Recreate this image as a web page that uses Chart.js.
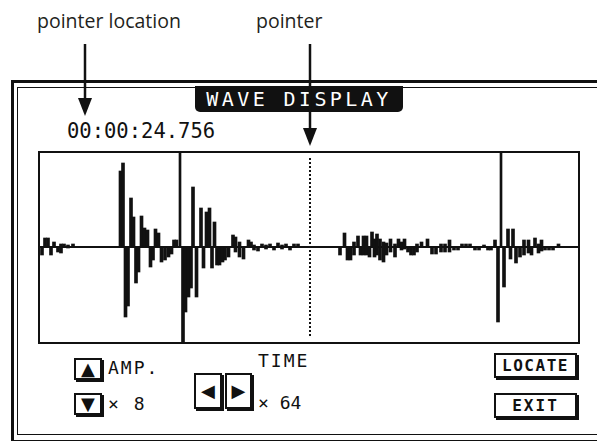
<!DOCTYPE html>
<html>
<head>
<meta charset="utf-8">
<script src="https://cdn.jsdelivr.net/npm/chart.js@4/dist/chart.umd.min.js"></script>
<style>
  body { margin: 0; width: 597px; height: 441px; position: relative; overflow: hidden; background: #fff; }
  .abs { position: absolute; }
  .note { font-family: "Open Sans", sans-serif; font-size: 19.5px; color: #231f20; white-space: nowrap; }
  .lcd { font-family: "DejaVu Sans Mono", monospace; color: #111; white-space: nowrap; }
  .btn { position: absolute; box-sizing: border-box; border: 2px solid #111; background: #fff;
         box-shadow: 2px 2px 0 #111; display: flex; align-items: center; justify-content: center; }
  .tri { font-family: "DejaVu Sans", sans-serif; font-size: 18px; line-height: 1; color: #111; }
</style>
</head>
<body>
<!-- annotations -->
<div class="abs note" style="left:37px; top:7px;">pointer location</div>
<div class="abs note" style="left:256px; top:7px;">pointer</div>

<!-- outer frame of the screen -->
<div class="abs" style="left:11px; top:80px; width:700px; height:357px; border:3px solid #111;"></div>
<div class="abs" style="left:17px; top:87px; width:700px; height:346px; border:1.5px solid #111;"></div>

<!-- title -->
<div class="abs lcd" style="left:195px; top:86px; width:208px; height:26px; background:#111; color:#fff;
     border-radius:0 0 5px 5px; font-size:20px; letter-spacing:3.4px; text-align:center; line-height:26px;">WAVE DISPLAY</div>

<div class="abs lcd" id="pointerTime" style="left:67px; top:119px; font-size:20.5px;"></div>

<!-- wave area -->
<div class="abs" style="left:38px; top:151px; width:538px; height:189px; border:2px solid #111;">
  <canvas id="wave"></canvas>
</div>

<!-- controls -->
<div class="btn" style="left:74px; top:358px; width:28px; height:22px;"><span class="tri">▲</span></div>
<div class="btn" style="left:74px; top:393px; width:28px; height:22px;"><span class="tri">▼</span></div>
<div class="abs lcd" style="left:108px; top:357px; font-size:18px; letter-spacing:2px;">AMP.</div>
<div class="abs lcd" id="ampText" style="left:108px; top:393px; font-size:18px; letter-spacing:2px;"></div>

<div class="btn" style="left:194px; top:373px; width:28px; height:36px;"><span class="tri">◀</span></div>
<div class="btn" style="left:225px; top:373px; width:27px; height:36px;"><span class="tri">▶</span></div>
<div class="abs lcd" style="left:258px; top:350px; font-size:18px; letter-spacing:2px;">TIME</div>
<div class="abs lcd" id="timeText" style="left:258px; top:392px; font-size:18px;"></div>

<div class="btn lcd" style="left:494px; top:353px; width:83px; height:25px; font-size:16px; font-weight:bold; letter-spacing:1.5px;">LOCATE</div>
<div class="btn lcd" style="left:494px; top:393px; width:83px; height:25px; font-size:16px; font-weight:bold; letter-spacing:2px;">EXIT</div>

<!-- arrows -->
<svg class="abs" style="left:0; top:0;" width="597" height="441">
  <line x1="85" y1="44" x2="85" y2="100" stroke="#111" stroke-width="2.5"/>
  <polygon points="78,98 92,98 85,116" fill="#111"/>
  <line x1="310" y1="44" x2="310" y2="130" stroke="#111" stroke-width="2.5"/>
  <polygon points="303,128 317,128 310,146" fill="#111"/>
</svg>

<script>
// screen readouts
const pointerLocation = '00:00:24.756';
const ampZoom = 8;
const timeZoom = 64;

// waveform columns: position across the display, min and max of each column
const sampleX = [
  2, 5, 8, 11, 14, 18, 21, 24, 28, 33,
  80.5, 83, 85.5, 88, 91, 93.5, 96, 98.5, 101.5, 104.5, 107.5, 110.5, 113, 115.5, 118.5,
  121.5, 125, 128.5, 131.5, 134, 136.5,
  143, 145.5, 148.5, 151, 153, 156.5, 161, 163.5, 166.5, 169.5, 172, 174.5, 177, 179.5,
  182.5, 185, 188.5, 193, 195.5, 199.5, 203.5, 208.5, 211, 214, 218, 222, 226, 230,
  234, 238, 242, 246, 250, 254, 258,
  300, 304.5, 307.5, 310.5, 314, 318, 320.5, 323.5, 326.5, 329.5, 332, 334.5, 337, 340,
  343.5, 346.5, 350.5, 355, 358.5, 361.5, 364.5, 368, 371, 374, 377, 381.5, 387.5, 392,
  396, 401, 405, 409.5, 414, 418, 422, 426, 430, 435, 439, 444, 448, 451, 455, 458,
  464, 468, 470.5, 473, 476, 480, 484, 488.5, 491.5, 495, 498.5, 501.5, 505, 509, 513, 518.5
];
const sampleLo = [
  -8, 0, 0, -8, 0, -5, -6, 0, -1, 0,
  0, 0, -70, -59, 0, 0, -36, -25, 0, 0, 0, -20, -13, 0, 0,
  -15, -13, -10, -7, 0, 0,
  -95, -65, -50, -41, 0, -50, 0, -21, 0, 0, -21, 0, -18, -18,
  -15, -13, -10, 0, -5, -10, -12, 0, 0, -3, -4, 0, -2, 0,
  -3, 0, -2, 0, -3, 0, 0,
  -8, 0, -13, -13, -8, 0, -8, -8, -8, -10, 0, -10, -8, -13,
  -15, -8, -5, -10, 0, -3, -2, -5, -8, -8, -5, 0, 0, -7,
  -7, -5, -5, -5, -3, -3, 0, 0, 0, -3, -3, 0, -3, -3, 0, -75,
  -40, 0, -12, 0, -16, -10, -8, -6, -8, 0, -6, -4, -3, -3, -3, 0
];
const sampleHi = [
  0, 9, 9, 0, 5, 0, 3, 3, 2, 3,
  76, 84, 0, 0, 49, 30, 0, 0, 31, 19, 17, 0, 0, 18, 14,
  0, 0, 0, 0, 7, 7,
  0, 0, 0, 0, 60, 0, 39, 0, 35, 39, 0, 25, 0, 0,
  0, 0, 0, 12, 10, 5, 0, 7, 5, 2, 0, 3, 2, 3,
  0, 4, 2, 3, 0, 3, 3,
  0, 14, 0, 0, 5, 11, 0, 11, 11, 0, 15, 8, 13, 8,
  5, 4, 8, 3, 8, 5, 8, 0, 0, 0, 3, 5, 8, 0,
  0, 3, 3, 7, 0, 0, 3, 3, 3, 0, 0, 2, 0, 0, 7, 0,
  0, 18, 0, 18, 0, 0, 7, 7, 0, 9, 3, 7, 0, 0, 0, 3
];

// start / end markers and the pointer
const markerX = [140, 461];
const pointerX = 270;

document.getElementById('pointerTime').textContent = pointerLocation;
document.getElementById('ampText').textContent = '× ' + ampZoom;
document.getElementById('timeText').textContent = '× ' + timeZoom;

const ink = '#111';

new Chart(document.getElementById('wave'), {
  type: 'bar',
  data: {
    datasets: [
      {
        label: 'wave',
        data: sampleX.map((x, i) => ({ x: x, y: [sampleLo[i], sampleHi[i]] })),
        backgroundColor: ink,
        barThickness: 3,
        grouped: false
      },
      {
        label: 'markers',
        data: markerX.map(x => ({ x: x, y: [0, 94] })),
        backgroundColor: ink,
        barThickness: 2,
        grouped: false
      },
      {
        type: 'line',
        label: 'pointer',
        data: [{ x: pointerX, y: -89 }, { x: pointerX, y: 90 }],
        borderColor: ink,
        borderWidth: 2,
        borderDash: [2, 2],
        pointRadius: 0
      }
    ]
  },
  options: {
    responsive: true,
    maintainAspectRatio: false,
    animation: false,
    layout: { padding: 0 },
    plugins: { legend: { display: false }, tooltip: { enabled: false } },
    scales: {
      x: { type: 'linear', min: 0, max: 538, offset: false, display: false },
      y: {
        min: -95,
        max: 94,
        afterBuildTicks: s => { s.ticks = [{ value: 0 }]; },
        ticks: { display: false },
        border: { display: false },
        grid: { color: ink, lineWidth: 2, drawTicks: false }
      }
    }
  }
});
</script>
</body>
</html>
